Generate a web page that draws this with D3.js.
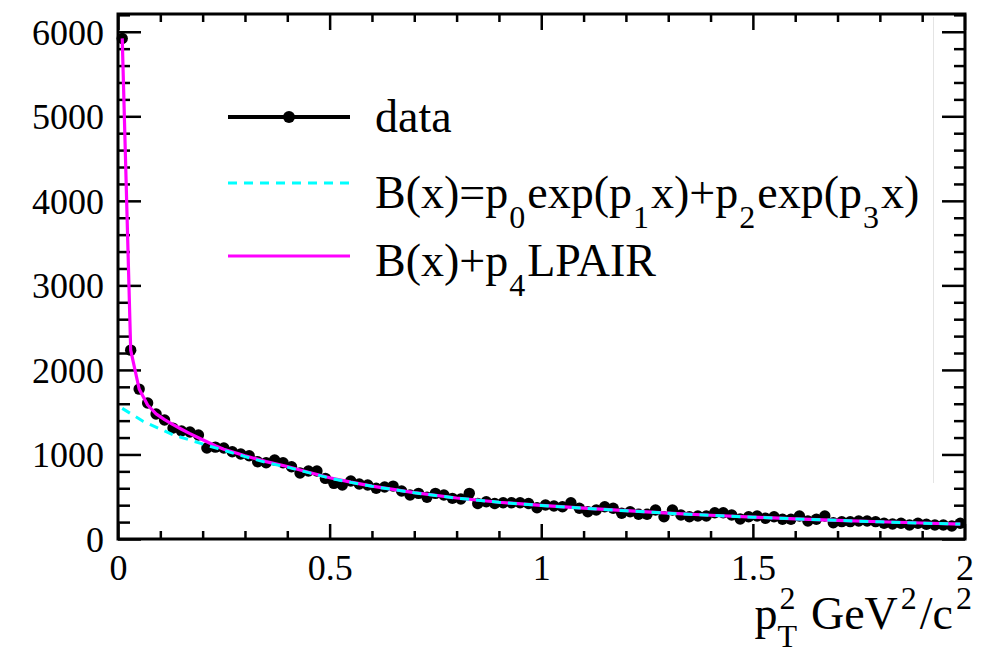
<!DOCTYPE html>
<html>
<head>
<meta charset="utf-8">
<script src="https://cdn.jsdelivr.net/npm/d3@7"></script>
<style>
  html, body { margin: 0; padding: 0; background: #fff; }
</style>
</head>
<body>
<svg id="chart" width="995" height="648"></svg>
<script>
// pT^2 bin centres (GeV^2/c^2) and event counts per bin
const binCenters = [
  0.01, 0.03, 0.05, 0.07, 0.09, 0.11, 0.13, 0.15, 0.17, 0.19,
  0.21, 0.23, 0.25, 0.27, 0.29, 0.31, 0.33, 0.35, 0.37, 0.39,
  0.41, 0.43, 0.45, 0.47, 0.49, 0.51, 0.53, 0.55, 0.57, 0.59,
  0.61, 0.63, 0.65, 0.67, 0.69, 0.71, 0.73, 0.75, 0.77, 0.79,
  0.81, 0.83, 0.85, 0.87, 0.89, 0.91, 0.93, 0.95, 0.97, 0.99,
  1.01, 1.03, 1.05, 1.07, 1.09, 1.11, 1.13, 1.15, 1.17, 1.19,
  1.21, 1.23, 1.25, 1.27, 1.29, 1.31, 1.33, 1.35, 1.37, 1.39,
  1.41, 1.43, 1.45, 1.47, 1.49, 1.51, 1.53, 1.55, 1.57, 1.59,
  1.61, 1.63, 1.65, 1.67, 1.69, 1.71, 1.73, 1.75, 1.77, 1.79,
  1.81, 1.83, 1.85, 1.87, 1.89, 1.91, 1.93, 1.95, 1.97, 1.99
];
const counts = [
  5920, 2234, 1773, 1608, 1478, 1407, 1312, 1277, 1265, 1230,
  1076, 1087, 1076, 1032, 1005,  985,  914,  902,  934,  902,
   855,  780,  804,  804,  717,  658,  638,  686,  650,  638,
   600,  615,  626,  567,  520,  540,  493,  540,  520,  481,
   473,  540,  420,  441,  420,  429,  429,  429,  420,  370,
   402,  390,  382,  429,  363,  323,  343,  382,  363,  304,
   323,  292,  292,  343,  264,  343,  284,  264,  272,  272,
   311,  311,  284,  236,  264,  272,  245,  264,  233,  233,
   272,  213,  233,  272,  193,  205,  205,  213,  213,  205,
   186,  177,  186,  165,  186,  174,  165,  165,  154,  186
];

// Background fit B(x): sample positions and values
const bkgX = [0.01, 0.06, 0.10, 0.13, 0.18, 0.23, 0.30, 0.35, 0.40, 0.45, 0.50, 0.55, 0.60,
              0.70, 0.80, 0.90, 1.00, 1.10, 1.20, 1.30, 1.40, 1.50, 1.60, 1.70, 1.80, 1.90, 1.99];
const bkgY = [1545, 1390, 1300, 1232, 1155, 1078, 975, 905, 850, 785, 720, 670, 623,
              547, 484, 434, 397, 364, 334, 305, 280, 258, 238, 220, 203, 188, 176];

// Total fit B(x) + p4*LPAIR: sample positions and values
const totX = [0.01, 0.03, 0.05, 0.07, 0.09, 0.11, 0.13, 0.15, 0.17, 0.19, 0.21, 0.23, 0.25,
              0.30, 0.35, 0.40, 0.45, 0.50, 0.55, 0.60, 0.70, 0.80, 0.90, 1.00, 1.10, 1.20,
              1.30, 1.40, 1.50, 1.60, 1.70, 1.80, 1.90, 1.99];
const totY = [5922, 2234, 1774, 1585, 1480, 1412, 1352, 1298, 1246, 1198, 1150, 1103, 1062,
              985, 915, 858, 790, 725, 672, 625, 548, 485, 435, 398, 365, 335,
              306, 281, 259, 239, 221, 204, 189, 176];

// Axis ticks
const xMajorTicks = [0, 0.5, 1, 1.5, 2];
const xTickLabels = ["0", "0.5", "1", "1.5", "2"];
const xMinorTicks = [0.1, 0.2, 0.3, 0.4, 0.6, 0.7, 0.8, 0.9, 1.1, 1.2, 1.3, 1.4, 1.6, 1.7, 1.8, 1.9];
const yMajorTicks = [0, 1000, 2000, 3000, 4000, 5000, 6000];
const yTickLabels = ["0", "1000", "2000", "3000", "4000", "5000", "6000"];
const yMinorTicks = [200, 400, 600, 800, 1200, 1400, 1600, 1800, 2200, 2400, 2600, 2800,
                     3200, 3400, 3600, 3800, 4200, 4400, 4600, 4800, 5200, 5400, 5600, 5800, 6200];
const yMax = 6210;

const legendLabels = ["data", "B(x)=p0exp(p1x)+p2exp(p3x)", "B(x)+p4LPAIR"];

const FONT = '"Liberation Serif"';
const svg = d3.select("#chart");
const L = 118, R = 965, T = 14, B = 539;

const x = d3.scaleLinear().domain([0, 2]).range([L, 964.5]);
const y = d3.scaleLinear().domain([0, yMax]).range([B, T]);

// faint vertical streak inside the pad
svg.append("line").attr("x1", 933.5).attr("x2", 933.5).attr("y1", 17).attr("y2", 483)
  .attr("stroke", "#e4e4e4").attr("stroke-width", 1);

// ---- axes (ticks point inward, mirrored on top / right) ----
const tickW = 2.5;
function styleAxis(g) {
  g.select(".domain").remove();
  g.selectAll("line").attr("stroke", "#000").attr("stroke-width", tickW);
}
const bottomMaj = svg.append("g").attr("transform", `translate(0,${B})`)
  .call(d3.axisBottom(x).tickValues(xMajorTicks).tickSize(-15).tickFormat((d, i) => xTickLabels[i]));
const bottomMin = svg.append("g").attr("transform", `translate(0,${B})`)
  .call(d3.axisBottom(x).tickValues(xMinorTicks).tickSize(-8).tickFormat(""));
const topMaj = svg.append("g").attr("transform", `translate(0,${T})`)
  .call(d3.axisTop(x).tickValues(xMajorTicks).tickSize(-16).tickFormat(""));
const topMin = svg.append("g").attr("transform", `translate(0,${T})`)
  .call(d3.axisTop(x).tickValues(xMinorTicks).tickSize(-8).tickFormat(""));
const leftMaj = svg.append("g").attr("transform", `translate(${L},0)`)
  .call(d3.axisLeft(y).tickValues(yMajorTicks).tickSize(-23).tickFormat((d, i) => yTickLabels[i]));
const leftMin = svg.append("g").attr("transform", `translate(${L},0)`)
  .call(d3.axisLeft(y).tickValues(yMinorTicks).tickSize(-12).tickFormat(""));
const rightMaj = svg.append("g").attr("transform", `translate(${R},0)`)
  .call(d3.axisRight(y).tickValues(yMajorTicks).tickSize(-23).tickFormat(""));
const rightMin = svg.append("g").attr("transform", `translate(${R},0)`)
  .call(d3.axisRight(y).tickValues(yMinorTicks).tickSize(-11).tickFormat(""));
[bottomMaj, bottomMin, topMaj, topMin, leftMaj, leftMin, rightMaj, rightMin].forEach(styleAxis);

bottomMaj.selectAll("text")
  .attr("y", 41).attr("dy", null)
  .style("font-family", FONT).style("font-size", "36px").attr("fill", "#000");
leftMaj.selectAll("text")
  .attr("x", -14).attr("dy", "0.34em")
  .style("font-family", FONT).style("font-size", "36px").attr("fill", "#000");

// ---- data points ----
svg.append("g").selectAll("circle").data(counts).join("circle")
  .attr("cx", (d, i) => x(binCenters[i]))
  .attr("cy", d => y(d))
  .attr("r", 5.7)
  .attr("fill", "#000");

// ---- fit curves (drawn over the points) ----
const lineTot = d3.line().x((d, i) => x(totX[i])).y(d => y(d)).curve(d3.curveLinear);
const lineBkg = d3.line().x((d, i) => x(bkgX[i])).y(d => y(d)).curve(d3.curveLinear);

svg.append("path").datum(totY).attr("d", lineTot)
  .attr("fill", "none").attr("stroke", "#ff00ff").attr("stroke-width", 3.2)
  .attr("stroke-linejoin", "round");
svg.append("path").datum(bkgY).attr("d", lineBkg)
  .attr("fill", "none").attr("stroke", "#00ffff").attr("stroke-width", 3)
  .attr("stroke-dasharray", "9,7");

// ---- frame ----
svg.append("rect").attr("x", L).attr("y", T).attr("width", R - L).attr("height", B - T)
  .attr("fill", "none").attr("stroke", "#000").attr("stroke-width", 3);

// ---- text helper: runs of normal / sub / superscript pieces ----
function addText(g, txt, xx, yy, size) {
  return g.append("text").attr("x", xx).attr("y", yy)
    .style("font-family", FONT).style("font-size", size + "px").attr("fill", "#000").text(txt);
}
function richText(g, parts, size, smallSize) {
  let cx = 0;
  parts.forEach(p => {
    if (p.stack) {
      // superscript and subscript stacked at the same x
      const t1 = addText(g, p.sup, cx + 2, -p.up, smallSize);
      const t2 = addText(g, p.sub, cx, p.down, smallSize);
      cx += Math.max(t1.node().getComputedTextLength() + 2, t2.node().getComputedTextLength());
    } else {
      const t = addText(g, p.t, cx + (p.pad || 0), p.dy || 0, p.small ? smallSize : size);
      cx += t.node().getComputedTextLength() + (p.pad || 0) + (p.after || 0);
    }
  });
  return cx;
}

// ---- legend ----
const legX1 = 228, legX2 = 350, legText = 375;
const legY = [117, 183, 256];
const legBase = [132, 208, 276];

svg.append("line").attr("x1", legX1).attr("x2", legX2).attr("y1", legY[0]).attr("y2", legY[0])
  .attr("stroke", "#000").attr("stroke-width", 4);
svg.append("circle").attr("cx", (legX1 + legX2) / 2).attr("cy", legY[0]).attr("r", 6).attr("fill", "#000");
svg.append("line").attr("x1", legX1).attr("x2", legX2).attr("y1", legY[1]).attr("y2", legY[1])
  .attr("stroke", "#00ffff").attr("stroke-width", 3).attr("stroke-dasharray", "9,7");
svg.append("line").attr("x1", legX1).attr("x2", legX2).attr("y1", legY[2]).attr("y2", legY[2])
  .attr("stroke", "#ff00ff").attr("stroke-width", 3.2);

const sub = 20;
const leg0 = svg.append("g").attr("transform", `translate(${legText},${legBase[0]})`);
richText(leg0, [{ t: legendLabels[0] }], 46, 32);
const leg1 = svg.append("g").attr("transform", `translate(${legText},${legBase[1]})`);
richText(leg1, [
  { t: "B(x)=p" }, { t: "0", small: true, dy: sub, pad: 1, after: 2 }, { t: "exp(p" },
  { t: "1", small: true, dy: sub, pad: 1, after: 2 }, { t: "x)+p" },
  { t: "2", small: true, dy: sub, pad: 1, after: 2 }, { t: "exp(p" },
  { t: "3", small: true, dy: sub, pad: 1, after: 2 }, { t: "x)" }
], 46, 32);
const leg2 = svg.append("g").attr("transform", `translate(${legText},${legBase[2]})`);
richText(leg2, [{ t: "B(x)+p" }, { t: "4", small: true, dy: sub, pad: 1, after: 2 }, { t: "LPAIR" }], 46, 32);

// ---- x-axis title: p_T^2 GeV^2/c^2, right-aligned ----
const title = svg.append("g");
const tw = richText(title, [
  { t: "p" }, { stack: true, sup: "2", sub: "T", up: 20, down: 18 },
  { t: "GeV", pad: 14 }, { t: "2", small: true, dy: -20, pad: 3, after: 3 },
  { t: "/c" }, { t: "2", small: true, dy: -20, pad: 3 }
], 46, 32);
title.attr("transform", `translate(${972 - tw},629)`);
</script>
</body>
</html>
